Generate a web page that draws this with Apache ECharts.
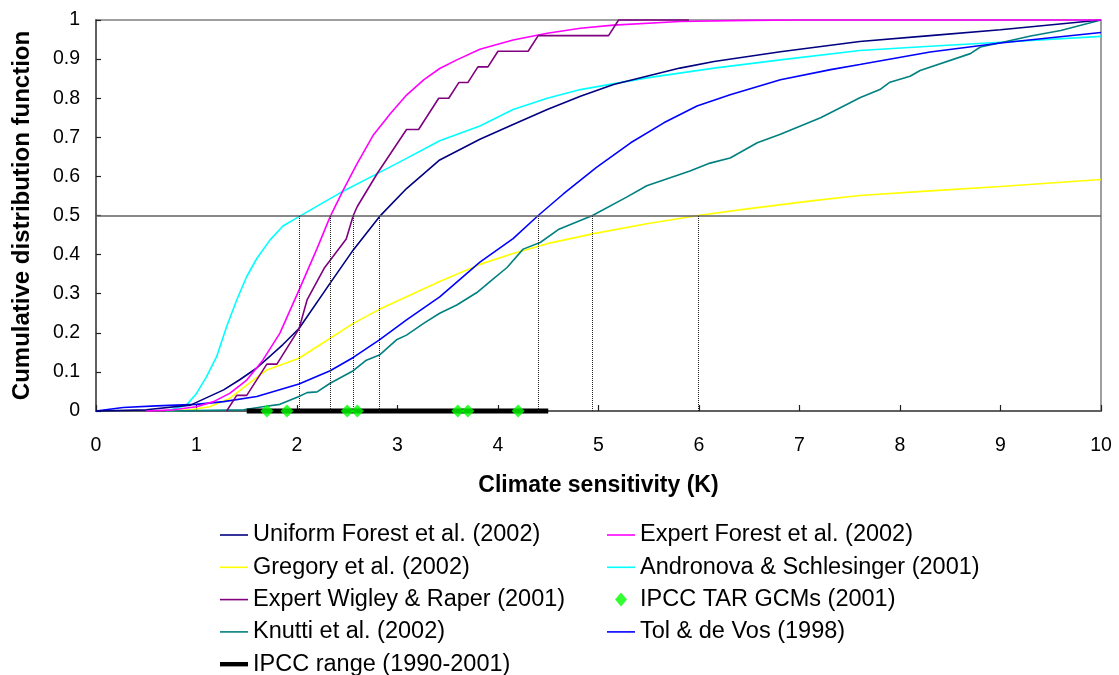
<!DOCTYPE html>
<html><head><meta charset="utf-8">
<script src="https://cdn.jsdelivr.net/npm/echarts@6/dist/echarts.min.js"></script>
<style>html,body{margin:0;padding:0;background:#fff}#c{width:1119px;height:675px}</style>
</head><body><div id="c"></div>
<script>
const uniformForest = [[0,0],[0.5,0.003],[0.94,0.015],[1.27,0.054],[1.43,0.08],[1.6,0.11],[1.86,0.17],[2.02,0.211],[2.33,0.327],[2.56,0.412],[2.82,0.497],[3.09,0.569],[3.42,0.642],[3.82,0.695],[4.15,0.733],[4.49,0.771],[4.82,0.805],[5.15,0.835],[5.48,0.856],[5.81,0.877],[6.15,0.894],[6.81,0.919],[7.6,0.945],[8.3,0.96],[9,0.975],[10,1.0]];
const expertForest = [[0.5,0],[0.77,0.003],[1.0,0.011],[1.17,0.024],[1.33,0.045],[1.5,0.079],[1.66,0.13],[1.83,0.199],[2.02,0.309],[2.2,0.416],[2.33,0.497],[2.46,0.565],[2.59,0.629],[2.76,0.706],[2.93,0.761],[3.09,0.808],[3.26,0.847],[3.42,0.876],[3.59,0.898],[3.82,0.925],[4.15,0.949],[4.49,0.966],[4.82,0.979],[5.15,0.987],[5.81,0.996],[6.48,0.999],[7,1.0],[10,1.0]];
const gregory = [[0.7,0],[0.94,0.003],[1.13,0.011],[1.33,0.032],[1.5,0.066],[1.7,0.105],[2.02,0.135],[2.33,0.186],[2.56,0.224],[2.82,0.26],[3.09,0.292],[3.42,0.331],[3.82,0.375],[4.15,0.403],[4.49,0.428],[4.94,0.453],[5.48,0.479],[5.99,0.5],[6.48,0.517],[7.14,0.538],[7.6,0.551],[8.3,0.563],[9,0.574],[10,0.592]];
const andronova = [[0.7,0],[0.9,0.015],[1.0,0.045],[1.1,0.088],[1.2,0.139],[1.3,0.216],[1.4,0.284],[1.5,0.344],[1.6,0.39],[1.73,0.437],[1.86,0.473],[2.02,0.497],[2.2,0.524],[2.43,0.558],[2.76,0.602],[3.09,0.646],[3.42,0.691],[3.82,0.729],[4.15,0.771],[4.49,0.8],[4.82,0.822],[5.48,0.852],[6.15,0.877],[6.81,0.898],[7.6,0.922],[8.3,0.933],[9,0.943],[10,0.958]];
const wigleyRaper = [[1.3,0],[1.4,0.04],[1.5,0.04],[1.7,0.12],[1.8,0.12],[2.02,0.21],[2.1,0.284],[2.27,0.365],[2.49,0.44],[2.56,0.5],[2.6,0.523],[2.8,0.608],[3.09,0.72],[3.21,0.72],[3.41,0.8],[3.51,0.8],[3.61,0.84],[3.7,0.84],[3.8,0.88],[3.9,0.88],[4.0,0.92],[4.3,0.92],[4.4,0.96],[5.1,0.96],[5.2,1.0],[5.9,1.0]];
const knutti = [[0.7,0],[1.47,0.003],[1.66,0.011],[1.83,0.017],[2.02,0.037],[2.1,0.047],[2.2,0.049],[2.33,0.071],[2.56,0.103],[2.69,0.13],[2.82,0.143],[2.99,0.182],[3.09,0.194],[3.26,0.224],[3.42,0.25],[3.59,0.271],[3.79,0.303],[3.92,0.331],[4.09,0.367],[4.25,0.414],[4.42,0.431],[4.6,0.464],[4.94,0.5],[5.28,0.547],[5.48,0.576],[5.91,0.614],[6.11,0.634],[6.31,0.647],[6.58,0.686],[6.81,0.708],[7.21,0.75],[7.47,0.784],[7.6,0.801],[7.8,0.822],[7.9,0.841],[8.1,0.856],[8.2,0.871],[8.7,0.914],[8.8,0.931],[9,0.942],[9.3,0.959],[9.6,0.973],[10,1.0]];
const tolDeVos = [[0,0],[0.27,0.009],[0.6,0.013],[1.0,0.017],[1.27,0.024],[1.6,0.037],[2.02,0.069],[2.33,0.103],[2.56,0.137],[2.82,0.182],[3.09,0.233],[3.42,0.292],[3.82,0.381],[4.15,0.441],[4.4,0.5],[4.65,0.555],[4.98,0.623],[5.32,0.686],[5.65,0.737],[5.98,0.78],[6.31,0.809],[6.81,0.847],[7.31,0.873],[7.6,0.886],[8.3,0.918],[9,0.941],[10,0.968]];
const gcmSensitivities = [1.7,1.9,2.5,2.6,3.6,3.7,4.2];
const ipccRange = [1.5,4.5];
const medians = [2.02,2.33,2.56,2.82,4.4,4.94,5.99];
const xTicks = [0,1,2,3,4,5,6,7,8,9,10];
const yTicks = [0,0.1,0.2,0.3,0.4,0.5,0.6,0.7,0.8,0.9,1];

const FONT = '"Liberation Sans", Arial, sans-serif';
const LINE_ICON = 'path://M0,0M0,6.2H28V7.8H0ZM28,14';
const THICK_ICON = 'path://M0,0M0,4.8H28V9.2H0ZM28,14';
const DIAMOND_ICON = 'path://M0,0M14,0L20,7L14,14L8,7ZM28,14';
function lineSeries(name, data, color, width) {
  return {name, type:'line', data, symbol:'none', clip:false, smooth:false,
    lineStyle:{color, width: width||1.6}, itemStyle:{color}, z:3};
}
const legendText = {fontFamily:FONT, fontSize:23.5, color:'#000', lineHeight:24};
const chart = echarts.init(document.getElementById('c'), null, {renderer:'canvas'});
const option = {
  animation:false,
  textStyle:{fontFamily:FONT},
  grid:{left:96, right:18, top:20, bottom:264, show:true, borderColor:'#808080', borderWidth:1.5, containLabel:false},
  xAxis:{type:'value', min:xTicks[0], max:xTicks[xTicks.length-1], interval:1,
    name:'Climate sensitivity (K)', nameLocation:'middle', nameGap:63,
    nameTextStyle:{fontFamily:FONT, fontSize:23, fontWeight:'bold', color:'#000'},
    axisLine:{show:true, lineStyle:{color:'#606060', width:2}},
    axisTick:{show:true, inside:true, length:6, lineStyle:{color:'#202020', width:1.2}},
    axisLabel:{fontFamily:FONT, fontSize:19.5, color:'#000', margin:25},
    splitLine:{show:false}},
  yAxis:{type:'value', min:yTicks[0], max:yTicks[yTicks.length-1], interval:0.1,
    name:'Cumulative distribution function', nameLocation:'middle', nameGap:62, nameRotate:90,
    nameTextStyle:{fontFamily:FONT, fontSize:24, fontWeight:'bold', color:'#000'},
    axisLine:{show:true, lineStyle:{color:'#606060', width:2}},
    axisTick:{show:true, inside:true, length:5, lineStyle:{color:'#202020', width:1.2}},
    axisLabel:{fontFamily:FONT, fontSize:19.5, color:'#000', margin:16, formatter:v=>String(Math.round(v*10)/10)},
    splitLine:{show:false}},
  legend:[
    {orient:'vertical', left:220, top:523, height:200, padding:0, itemWidth:28, itemHeight:14, itemGap:8.3,
      textStyle:legendText,
      data:[{name:'Uniform Forest et al. (2002)', icon:LINE_ICON},{name:'Gregory et al. (2002)', icon:LINE_ICON},
        {name:'Expert Wigley & Raper (2001)', icon:LINE_ICON},{name:'Knutti et al. (2002)', icon:LINE_ICON},
        {name:'IPCC range (1990-2001)', icon:THICK_ICON}]},
    {orient:'vertical', left:607, top:523, height:200, padding:0, itemWidth:28, itemHeight:14, itemGap:8.3,
      textStyle:legendText,
      data:[{name:'Expert Forest et al. (2002)', icon:LINE_ICON},{name:'Andronova & Schlesinger (2001)', icon:LINE_ICON},
        {name:'IPCC TAR GCMs (2001)', icon:DIAMOND_ICON},{name:'Tol & de Vos (1998)', icon:LINE_ICON}]}
  ],
  series:[
    Object.assign(lineSeries('Gregory et al. (2002)', gregory, '#FFFF00'), {
      markLine:{silent:true, symbol:'none', label:{show:false},
        data:[[{coord:[xTicks[0],0.5], lineStyle:{type:'solid', color:'#606060', width:1.5}},{coord:[xTicks[xTicks.length-1],0.5]}]]
          .concat(medians.map(m=>[{coord:[m,0], lineStyle:{type:'dotted', color:'#222', width:1}},{coord:[m,0.5]}]))}
    }),
    lineSeries('Andronova & Schlesinger (2001)', andronova, '#00FFFF'),
    lineSeries('Knutti et al. (2002)', knutti, '#008080'),
    lineSeries('Tol & de Vos (1998)', tolDeVos, '#0000FF'),
    lineSeries('Uniform Forest et al. (2002)', uniformForest, '#000080'),
    lineSeries('Expert Forest et al. (2002)', expertForest, '#FF00FF'),
    lineSeries('Expert Wigley & Raper (2001)', wigleyRaper, '#800080'),
    Object.assign(lineSeries('IPCC range (1990-2001)', ipccRange.map(v=>[v,0]), '#000000', 5), {z:4}),
    {name:'IPCC TAR GCMs (2001)', type:'scatter', data:gcmSensitivities.map(v=>[v,0]), symbol:'diamond', symbolSize:13,
      clip:false, itemStyle:{color:'#00FF00'}, z:5}
  ]
};
chart.setOption(option);
</script></body></html>
